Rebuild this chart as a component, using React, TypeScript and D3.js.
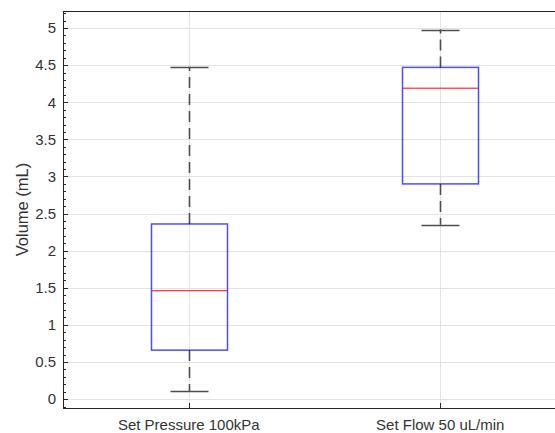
import React from "react";
import * as d3 from "d3";

const categories = ["Set Pressure 100kPa", "Set Flow 50 uL/min"];
const lowerWhisker = [0.11, 2.35];
const q1 = [0.66, 2.9];
const median = [1.46, 4.19];
const q3 = [2.36, 4.47];
const upperWhisker = [4.48, 4.98];
const yTicks = [0, 0.5, 1, 1.5, 2, 2.5, 3, 3.5, 4, 4.5, 5];
const yLabel = "Volume (mL)";

export default function App() {
  const W = 555, H = 433;
  const left = 63, top = 11, bottom = 408, right = 566;
  const y = d3.scaleLinear().domain([-0.12, 5.23]).range([bottom, top]);
  const x = d3.scaleLinear().domain([0.5, 2.5]).range([left, right]);
  const boxHalf = 38;
  const capHalf = 19;
  const minor = d3.range(-1, 53).map((i) => i / 10).filter((v) => y(v) >= top && y(v) <= bottom);
  const font = "Liberation Sans, Arial, Helvetica, sans-serif";
  const axisCol = "#262626";
  const whisk = "#4d4d4d";
  return (
    <svg width={W} height={H} style={{ position: "absolute", left: 0, top: 0 }} fontFamily={font}>
      <rect width={W} height={H} fill="#fff" />
      {/* grid */}
      {yTicks.map((t) => (
        <line key={"g" + t} x1={left} x2={right} y1={Math.round(y(t)) + 0.5} y2={Math.round(y(t)) + 0.5} stroke="#e3e3e3" strokeWidth={1} />
      ))}
      {categories.map((c, i) => (
        <line key={"vg" + i} x1={Math.round(x(i + 1)) + 0.5} x2={Math.round(x(i + 1)) + 0.5} y1={top} y2={bottom} stroke="#e3e3e3" strokeWidth={1} />
      ))}
      {/* boxes */}
      {categories.map((c, i) => {
        const cx = Math.round(x(i + 1)) + 0.5;
        return (
          <g key={"b" + i}>
            <line x1={cx} x2={cx} y1={y(q3[i])} y2={y(upperWhisker[i])} stroke={whisk} strokeWidth={1.6} strokeDasharray="11,6" />
            <line x1={cx} x2={cx} y1={y(q1[i])} y2={y(lowerWhisker[i])} stroke={whisk} strokeWidth={1.6} strokeDasharray="11,6" />
            <line x1={cx - capHalf} x2={cx + capHalf} y1={Math.round(y(upperWhisker[i])) + 0.5} y2={Math.round(y(upperWhisker[i])) + 0.5} stroke={whisk} strokeWidth={1.4} />
            <line x1={cx - capHalf} x2={cx + capHalf} y1={Math.round(y(lowerWhisker[i])) + 0.5} y2={Math.round(y(lowerWhisker[i])) + 0.5} stroke={whisk} strokeWidth={1.4} />
            <rect x={cx - boxHalf} y={y(q3[i])} width={boxHalf * 2} height={y(q1[i]) - y(q3[i])} fill="none" stroke="#0000ff" strokeOpacity={0.7} strokeWidth={1.5} />
            <line x1={cx - boxHalf} x2={cx + boxHalf} y1={y(median[i])} y2={y(median[i])} stroke="#ff0000" strokeWidth={1} />
          </g>
        );
      })}
      {/* axes */}
      <line x1={left + 0.5} x2={left + 0.5} y1={top} y2={bottom} stroke={axisCol} strokeWidth={1} />
      <line x1={left} x2={right} y1={top + 0.5} y2={top + 0.5} stroke={axisCol} strokeWidth={1} />
      <line x1={left} x2={right} y1={bottom + 0.5} y2={bottom + 0.5} stroke={axisCol} strokeWidth={1} />
      {minor.map((v) => (
        <line key={"m" + v} x1={left} x2={left + 3} y1={Math.round(y(v)) + 0.5} y2={Math.round(y(v)) + 0.5} stroke={axisCol} strokeWidth={1} />
      ))}
      {yTicks.map((t) => (
        <g key={"t" + t}>
          <line x1={left} x2={left + 5} y1={Math.round(y(t)) + 0.5} y2={Math.round(y(t)) + 0.5} stroke={axisCol} strokeWidth={1} />
          <text x={56} y={y(t)} dy="0.35em" textAnchor="end" fontSize={15} fill="#333">{t}</text>
        </g>
      ))}
      {categories.map((c, i) => (
        <g key={"xt" + i}>
          <line x1={Math.round(x(i + 1)) + 0.5} x2={Math.round(x(i + 1)) + 0.5} y1={bottom} y2={bottom - 5} stroke={axisCol} strokeWidth={1} />
          <text x={x(i + 1)} y={430} textAnchor="middle" fontSize={15} fill="#333">{c}</text>
        </g>
      ))}
      <text transform={`translate(28,${(top + bottom) / 2}) rotate(-90)`} textAnchor="middle" fontSize={16.5} fill="#333">{yLabel}</text>
    </svg>
  );
}
